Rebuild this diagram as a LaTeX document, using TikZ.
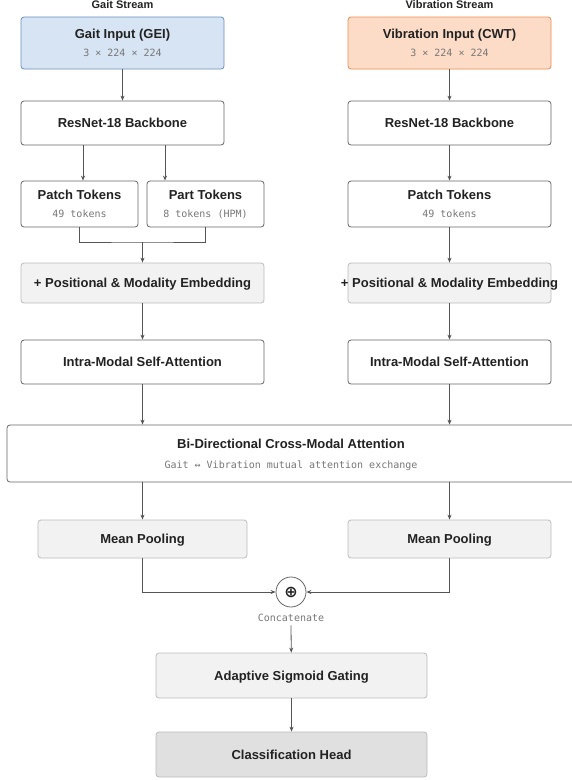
\documentclass[tikz,border=0pt]{standalone}
\usepackage{fontspec}
\setmainfont{Liberation Sans}
\setmonofont{DejaVu Sans Mono}
\newfontfamily\symfont{DejaVu Sans}
\usetikzlibrary{arrows.meta}

\definecolor{gaitfill}{HTML}{D6E4F3}
\definecolor{gaitline}{HTML}{6A8EBE}
\definecolor{vibfill}{HTML}{FCDCC7}
\definecolor{vibline}{HTML}{EE8A4E}
\definecolor{boxline}{HTML}{666666}
\definecolor{softline}{HTML}{BBBBBB}
\definecolor{softfill}{HTML}{F2F2F2}
\definecolor{headfill}{HTML}{E0E0E0}
\definecolor{ink}{HTML}{222222}
\definecolor{subgray}{HTML}{777777}
\definecolor{wire}{HTML}{555555}

\newcommand{\subtxt}[1]{{\mdseries\ttfamily\fontsize{10}{12}\selectfont\color{subgray}#1}}

\tikzset{
	blk/.style={draw=boxline, fill=white, rounded corners=3pt, line width=0.8pt, align=center, text=ink, inner sep=0pt, text depth=-2pt, font=\bfseries\fontsize{13}{15}\selectfont},
	shd/.style={blk, draw=softline, fill=softfill},
	dark/.style={blk, draw=softline, fill=headfill},
	two/.style={text depth=-5pt},
	wire/.style={draw=wire, line width=0.8pt},
	arr/.style={wire, -{Stealth[length=5pt,width=4pt]}},
	head/.style={text=ink, font=\bfseries\fontsize{11}{13}\selectfont}
}

\begin{document}
\begin{tikzpicture}[x=1pt, y=-1pt]
	
	\useasboundingbox (0,0) rectangle (571,780);
	
	\node[head] (gtitle) at (122.5,5) {Gait Stream};
	\node[head] (vtitle) at (449.5,5) {Vibration Stream};
	
	% gait stream
	\node[blk, two, draw=gaitline, fill=gaitfill, minimum width=203, minimum height=52] (gin) at (122.5,43) {Gait Input (GEI)\\[3pt]\subtxt{3 × 224 × 224}};
	\node[blk, minimum width=203, minimum height=44] (gbb) at (122.5,123) {ResNet-18 Backbone};
	\node[blk, two, minimum width=117, minimum height=46] (gpt) at (79.5,204) {Patch Tokens\\[3pt]\subtxt{49 tokens}};
	\node[blk, two, minimum width=117, minimum height=46] (gpr) at (205.5,204) {Part Tokens\\[3pt]\subtxt{8 tokens (HPM)}};
	\node[shd, minimum width=243, minimum height=40] (gpe) at (142.5,283) {+ Positional \& Modality Embedding};
	\node[blk, minimum width=243, minimum height=44] (gsa) at (142.5,362) {Intra-Modal Self-Attention};
	
	% vibration stream
	\node[blk, two, draw=vibline, fill=vibfill, minimum width=203, minimum height=52] (vin) at (449.5,43) {Vibration Input (CWT)\\[3pt]\subtxt{3 × 224 × 224}};
	\node[blk, minimum width=203, minimum height=44] (vbb) at (449.5,123) {ResNet-18 Backbone};
	\node[blk, two, minimum width=203, minimum height=46] (vpt) at (449.5,204) {Patch Tokens\\[3pt]\subtxt{49 tokens}};
	\node[shd, minimum width=203, minimum height=40] (vpe) at (449.5,283) {\makebox[0pt]{+ Positional \& Modality Embedding}};
	\node[blk, minimum width=203, minimum height=44] (vsa) at (449.5,362) {Intra-Modal Self-Attention};
	
	% fusion
	\node[blk, text depth=-7pt, minimum width=568, minimum height=57] (cma) at (291,453.5) {Bi-Directional Cross-Modal Attention\\[5pt]\subtxt{Gait ↔ Vibration mutual attention exchange}};
	\node[shd, minimum width=209, minimum height=38] (gmp) at (142.5,539) {Mean Pooling};
	\node[shd, minimum width=203, minimum height=38] (vmp) at (449.5,539) {Mean Pooling};
	\node[circle, draw=boxline, fill=white, line width=0.8pt, minimum size=30, inner sep=0pt, text=ink] (cat) at (291,592) {\symfont\bfseries\fontsize{16}{16}\selectfont ⊕};
	\node (cattxt) at (291,618) {\subtxt{Concatenate}};
	\node[shd, minimum width=271, minimum height=45] (asg) at (291.5,675.5) {Adaptive Sigmoid Gating};
	\node[dark, minimum width=271, minimum height=45] (cls) at (291.5,754.5) {Classification Head};
	
	\coordinate (mrg) at (142.5,242);
	
	\draw[arr] (gin) -- (gbb);
	\draw[arr] ([xshift=-39.5]gbb.south) -- ([xshift=-39.5]gbb.south |- gpt.north);
	\draw[arr] ([xshift=42.5]gbb.south) -- ([xshift=42.5]gbb.south |- gpr.north);
	\draw[wire] (gpt.south) |- (mrg) -| (gpr.south);
	\draw[arr] (mrg) -- (gpe);
	\draw[arr] (gpe) -- (gsa);
	\draw[arr] (gsa) -- (gsa.south |- cma.north);
	
	\draw[arr] (vin) -- (vbb);
	\draw[arr] (vbb) -- (vpt);
	\draw[arr] (vpt) -- (vpe);
	\draw[arr] (vpe) -- (vsa);
	\draw[arr] (vsa) -- (vsa.south |- cma.north);
	
	\draw[arr] (gmp.north |- cma.south) -- (gmp);
	\draw[arr] (vmp.north |- cma.south) -- (vmp);
	\draw[arr] (gmp.south) |- (cat.west);
	\draw[arr] (vmp.south) |- (cat.east);
	\draw[arr] (cattxt.south) -- (asg);
	\draw[arr] (asg) -- (cls);
	
\end{tikzpicture}
\end{document}
